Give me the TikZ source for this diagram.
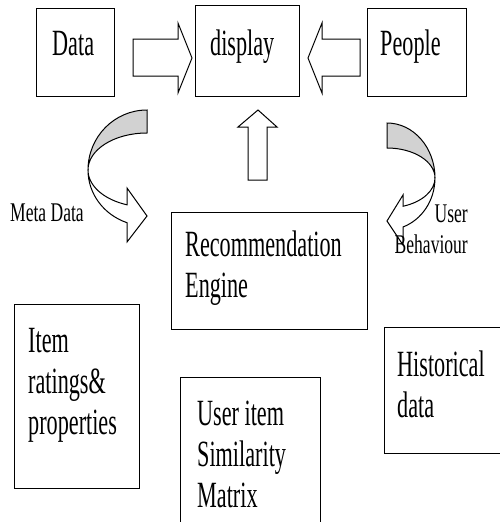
\documentclass[tikz,border=0pt]{standalone}
\usepackage{fontspec}
\setmainfont{Liberation Serif}
\newfontfamily\bigf[FakeStretch=0.6]{Liberation Serif}
\newfontfamily\smallf[FakeStretch=0.65]{Liberation Serif}
\begin{document}
\begin{tikzpicture}[x=1pt,y=1pt,
  box/.style={draw, line width=1.1pt, inner sep=0pt, anchor=north west},
  lbl/.style={anchor=base west, inner sep=0pt, align=left, font=\bigf\fontsize{37}{41}\selectfont},
  sm/.style={inner sep=0pt, font=\smallf\fontsize{27}{31}\selectfont},
  blk/.style={draw, line width=1pt, fill=white, line join=miter},
  back/.style={draw, line width=1pt, fill=gray!35}]
\useasboundingbox (0,0) rectangle (500,-522);
% boxes
\node[box, minimum width=78pt, minimum height=88pt] (data) at (36,-8) {};
\node[box, minimum width=104pt, minimum height=91pt] (display) at (195,-5) {};
\node[box, minimum width=99pt, minimum height=88pt] (people) at (367,-8) {};
\node[box, minimum width=196pt, minimum height=117pt] (reng) at (171,-212) {};
\node[box, minimum width=125pt, minimum height=184pt] (item) at (14,-304) {};
\node[box, minimum width=140pt, minimum height=160pt] (uism) at (180,-377) {};
\node[box, minimum width=130pt, minimum height=126pt] (hist) at (384,-327) {};
% straight block arrows
\draw[blk] (133,-39) -- (178,-39) -- (178,-23) -- (192,-58) -- (178,-93) -- (178,-76) -- (133,-76) -- cycle;
\draw[blk] (360,-39) -- (322,-39) -- (322,-23) -- (308,-58) -- (322,-93) -- (322,-76) -- (360,-76) -- cycle;
\draw[blk] (248,-180) -- (248,-127) -- (238,-127) -- (258,-110) -- (277,-127) -- (267,-127) -- (267,-180) -- cycle;
% left curved arrow
\draw[back] (147,-110) arc[start angle=90, end angle=180, x radius=59, y radius=60]
  arc[start angle=180, end angle=90, x radius=59, y radius=37] -- cycle;
\draw[blk] (88,-170) arc[start angle=180, end angle=250.2, x radius=59, y radius=37]
  -- (127,-188) -- (147,-216) -- (127,-242) -- (127,-222.7)
  arc[start angle=250.2, end angle=180, x radius=59, y radius=56] -- cycle;
% right curved arrow
\draw[back] (387,-123) arc[start angle=90, end angle=0, x radius=48, y radius=55]
  arc[start angle=0, end angle=90, x radius=48, y radius=30] -- cycle;
\draw[blk] (435,-178) arc[start angle=0, end angle=-70.5, x radius=48, y radius=30]
  -- (403,-195) -- (387,-221) -- (403,-245) -- (403,-227)
  arc[start angle=-70.5, end angle=0, x radius=48, y radius=52] -- cycle;
% texts (base anchor = baseline of last line)
\node[lbl] (tdata) at (52,-55) {Data};
\node[lbl] (tdisp) at (210,-55) {display};
\node[lbl] (tpeople) at (380,-55) {People};
\node[lbl] (treng) at (185,-297) {Recommendation\\Engine};
\node[lbl] (titem) at (28,-434) {Item\\ratings\&\\properties};
\node[lbl] (tuism) at (197,-507) {User item\\Similarity\\Matrix};
\node[lbl] (thist) at (397,-417) {Historical\\data};
\node[sm, anchor=base west] (meta) at (10,-221) {Meta Data};
\node[sm, anchor=base east, align=right] (ubeh) at (468,-253) {User\\Behaviour};
\end{tikzpicture}
\end{document}
